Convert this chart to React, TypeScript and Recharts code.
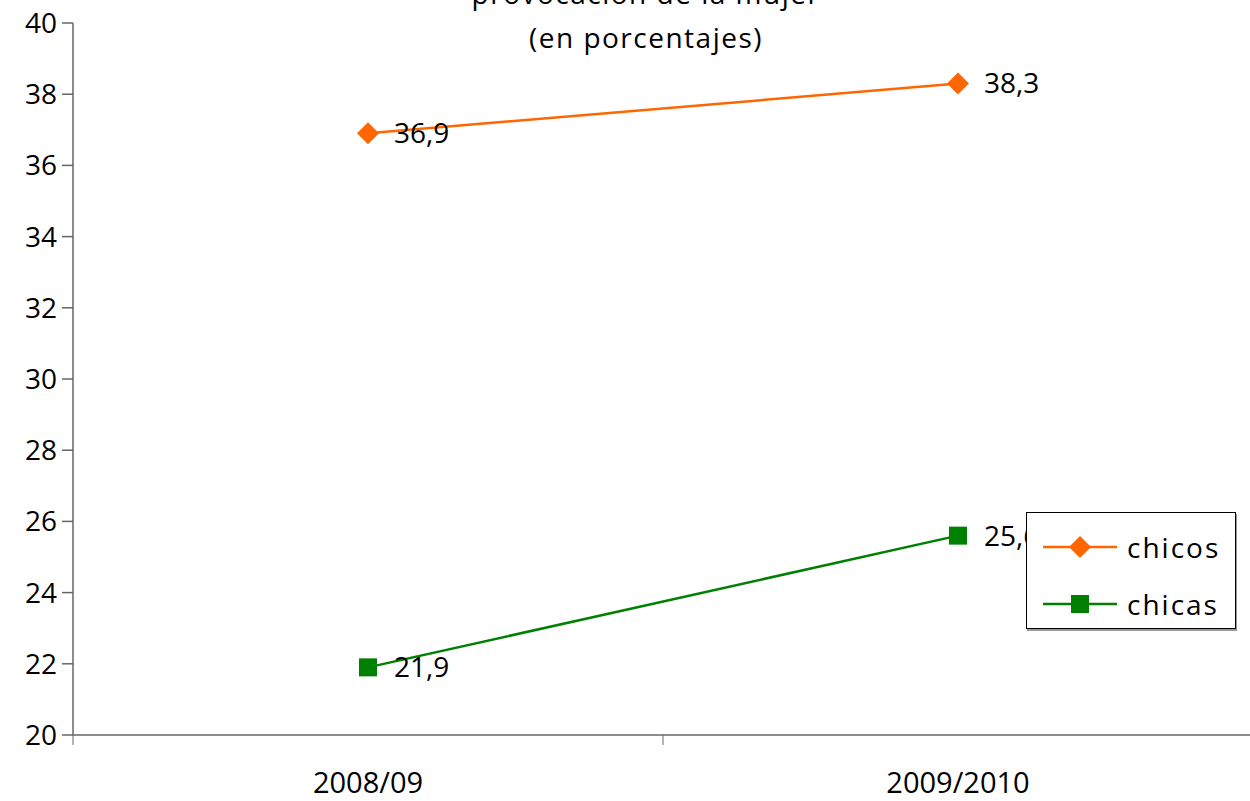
import React from 'react';
import { LineChart, Line, XAxis, YAxis, LabelList } from 'recharts';

const categories = ['2008/09', '2009/2010'];
const chicos = [36.9, 38.3];
const chicas = [21.9, 25.6];
const yTicks = [20, 22, 24, 26, 28, 30, 32, 34, 36, 38, 40];

const FONT = '"Open Sans", "Noto Sans", sans-serif';
const ORANGE = '#ff6600';
const GREEN = '#008000';
const AXIS = '#666666';

const data = categories.map((c, i) => ({
  x: i + 0.5,
  name: c,
  chicos: chicos[i],
  chicas: chicas[i],
}));

const Diamond = (props: any) => {
  const { cx, cy } = props;
  if (cx == null || cy == null) return null;
  const r = 11;
  return <path d={`M${cx},${cy - r}L${cx + r},${cy}L${cx},${cy + r}L${cx - r},${cy}Z`} fill={ORANGE} />;
};

const Square = (props: any) => {
  const { cx, cy } = props;
  if (cx == null || cy == null) return null;
  return <rect x={cx - 9} y={cy - 9} width={18} height={18} fill={GREEN} />;
};

const XTick = (props: any) => {
  const { x, y, payload } = props;
  const v = payload.value as number;
  if (Number.isInteger(v)) {
    return <line x1={x} y1={y} x2={x} y2={y + 10} stroke={AXIS} strokeWidth={1} />;
  }
  const label = categories[Math.floor(v)];
  return (
    <text x={x} y={y + 50} textAnchor="middle" dominantBaseline="middle" fontSize={29} fontFamily={FONT} fill="#000">
      {label}
    </text>
  );
};

const LegendBox = () => {
  const items = [
    { name: 'chicos', color: ORANGE, shape: 'diamond' },
    { name: 'chicas', color: GREEN, shape: 'square' },
  ];
  return (
    <div style={{ position: 'absolute', left: 1026, top: 512, width: 208, height: 115, border: '1px solid #000', boxShadow: '1px 2px 0 #999', background: '#fff' }}>
      {items.map((it, i) => (
        <div key={it.name} style={{ position: 'absolute', left: 0, top: 34 + i * 57 - 20, height: 40, display: 'flex', alignItems: 'center' }}>
          <svg width={100} height={40} style={{ display: 'block' }}>
            <line x1={16} y1={20} x2={90} y2={20} stroke={it.color} strokeWidth={2.5} />
            {it.shape === 'diamond' ? (
              <path d="M53,9L64,20L53,31L42,20Z" fill={it.color} />
            ) : (
              <rect x={44} y={11} width={18} height={18} fill={it.color} />
            )}
          </svg>
          <span style={{ fontFamily: FONT, fontSize: 28, letterSpacing: 2, color: '#000' }}>{it.name}</span>
        </div>
      ))}
    </div>
  );
};

export default function App() {
  return (
    <div style={{ position: 'absolute', left: 0, top: 0, width: 1250, height: 801, overflow: 'hidden', background: '#fff' }}>
      <LineChart width={1250} height={801} data={data} margin={{ top: 23, right: -3, bottom: 0, left: 0 }}>
        <XAxis
          dataKey="x"
          type="number"
          domain={[0, 2]}
          ticks={[0, 0.5, 1, 1.5, 2]}
          interval={0}
          tickLine={false}
          tickSize={0}
          tickMargin={0}
          height={66}
          axisLine={{ stroke: AXIS, strokeWidth: 1.5 }}
          tick={<XTick />}
        />
        <YAxis
          domain={[20, 40]}
          ticks={yTicks}
          interval={0}
          width={73}
          tickSize={11}
          tickMargin={5}
          axisLine={{ stroke: AXIS, strokeWidth: 1.5 }}
          tickLine={{ stroke: AXIS, strokeWidth: 1.5 }}
          tick={{ fill: '#000', fontSize: 28, fontFamily: FONT }}
        />
        <Line
          dataKey="chicos"
          stroke={ORANGE}
          strokeWidth={2.5}
          dot={<Diamond />}
          activeDot={false}
          isAnimationActive={false}
        >
          <LabelList dataKey="chicos" position="right" offset={26} formatter={(v: any) => String(v).replace('.', ',')} fill="#000" fontSize={28} fontFamily={FONT} />
        </Line>
        <Line
          dataKey="chicas"
          stroke={GREEN}
          strokeWidth={2.5}
          dot={<Square />}
          activeDot={false}
          isAnimationActive={false}
        >
          <LabelList dataKey="chicas" position="right" offset={26} formatter={(v: any) => String(v).replace('.', ',')} fill="#000" fontSize={28} fontFamily={FONT} />
        </Line>
      </LineChart>
      <div style={{ position: 'absolute', left: 0, width: 1292, top: -27, textAlign: 'center', fontFamily: FONT, fontSize: 28, letterSpacing: 1.5, lineHeight: '40px', color: '#000' }}>
        provocación de la mujer
      </div>
      <div style={{ position: 'absolute', left: 0, width: 1292, top: 17, textAlign: 'center', fontFamily: FONT, fontSize: 28, letterSpacing: 1.5, lineHeight: '40px', color: '#000' }}>
        (en porcentajes)
      </div>
      <LegendBox />
    </div>
  );
}
